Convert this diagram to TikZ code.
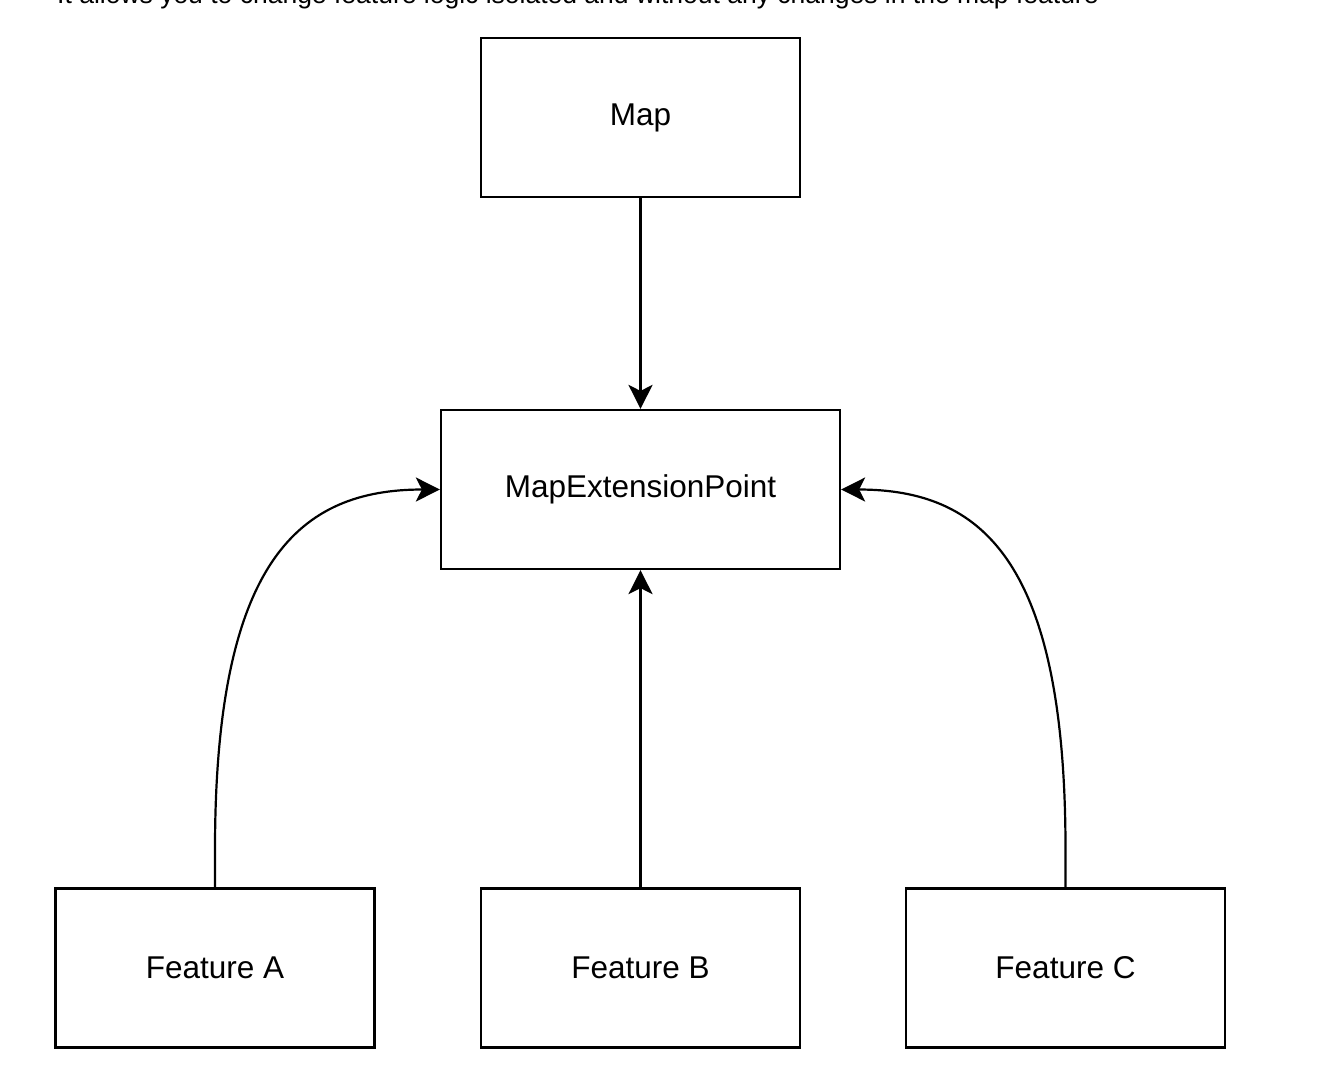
\documentclass[tikz,border=0pt]{standalone}
\usepackage{fontspec}
\setmainfont{Liberation Sans}
\usetikzlibrary{arrows.meta}
\begin{document}
\begin{tikzpicture}[x=1pt,y=-1pt,
  box/.style={draw=black,line width=2.2pt,minimum width=319pt,minimum height=159pt,inner sep=0pt,font=\fontsize{31.5}{36}\selectfont},
  conn/.style={line width=2.2pt,-{Stealth[length=24pt,width=24pt,inset=6pt]}}]
\useasboundingbox (0,0) rectangle (1322,1084);
\clip (0,0) rectangle (1322,1084);
\node[anchor=base west,font=\fontsize{26.5}{30}\selectfont,inner sep=0pt] (cap) at (57,4) {It allows you to change feature logic isolated and without any changes in the map feature};
\node[box] (map) at (640.5,117.5) {Map};
\node[box,minimum width=399pt] (mep) at (640.5,489.5) {MapExtensionPoint};
\node[box] (fa) at (215,968) {Feature A};
\node[box] (fb) at (640.5,968) {Feature B};
\node[box] (fc) at (1065.5,968) {Feature C};
\draw[conn] (map.south) -- (mep.north);
\draw[conn] (fb.north) -- (mep.south);
\draw[conn] (fa.north) -- ++(0,-38) .. controls +(0,-290) and (300,489.5) .. (mep.west);
\draw[conn] (fc.north) -- ++(0,-38) .. controls +(0,-290) and (981,489.5) .. (mep.east);
\end{tikzpicture}
\end{document}
